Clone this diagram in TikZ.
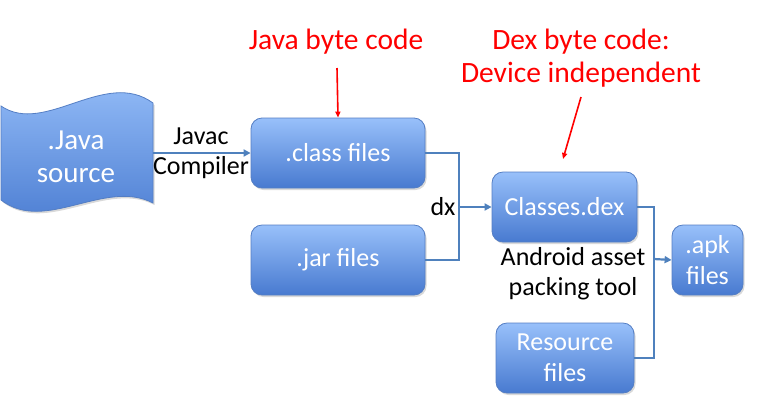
\documentclass[tikz,border=0pt]{standalone}
\usepackage{fontspec}
\setmainfont{Carlito}
\usetikzlibrary{arrows.meta,shadows}
\definecolor{boxtop}{RGB}{152,192,250}
\definecolor{boxbot}{RGB}{72,122,208}
\definecolor{boxedge}{RGB}{84,126,196}
\definecolor{conn}{RGB}{79,129,189}
\definecolor{redtxt}{RGB}{255,0,0}
\begin{document}
\begin{tikzpicture}[x=1pt,y=-1pt,
  fbox/.style={draw=boxedge,line width=0.8pt,rounded corners=11pt,
    top color=boxtop,bottom color=boxbot,text=white,align=center,
    font=\fontsize{26}{31}\selectfont,inner sep=0pt,minimum height=70pt,
    drop shadow={shadow xshift=1.5pt,shadow yshift=-2pt,opacity=0.3}},
  conline/.style={draw=conn,line width=2.2pt},
  conarrow/.style={conline,-{Triangle[length=7pt,width=7pt]}},
  blacklabel/.style={align=center,font=\fontsize{26}{30}\selectfont,inner sep=0pt},
  redlabel/.style={align=center,text=redtxt,font=\fontsize{29.5}{33}\selectfont,inner sep=0pt},
  redarrow/.style={draw=redtxt,line width=1.6pt,-{Triangle[length=6pt,width=5pt]}}
]
\useasboundingbox (0,0) rectangle (757,400);

% Java source shape
\path[draw=boxedge,line width=0.8pt,top color=boxtop,bottom color=boxbot,
  drop shadow={shadow xshift=1.5pt,shadow yshift=-2pt,opacity=0.3}]
  (1,106) .. controls (45,136) and (105,68) .. (153,103)
  -- (153,203) .. controls (105,178) and (45,234) .. (1,200) -- cycle;
\node[text=white,align=center,font=\fontsize{29}{33}\selectfont,inner sep=0pt]
  (javatext) at (76,157) {.Java\\source};
\coordinate (javaR) at (153,153);

% boxes
\node[fbox,minimum width=174pt] (class) at (338,153) {.class files};
\node[fbox,minimum width=174pt] (jar) at (338,260) {.jar files};
\node[fbox,minimum width=145pt] (dex) at (564.5,207) {Classes.dex};
\node[fbox,minimum width=71pt] (apk) at (707.5,260) {.apk\\files};
\node[fbox,minimum width=138pt] (res) at (565,358) {Resource\\files};

% connectors
\coordinate (j1) at (459,207);
\coordinate (j2) at (654,259);
\draw[conarrow] (javaR) -- (class.west);
\draw[conline] (class.east) -| (j1);
\draw[conline] (jar.east) -| (j1);
\draw[conarrow] (j1) -- (dex.west);
\draw[conline] (dex.east) -| (j2);
\draw[conline] (res.east) -| (j2);
\draw[conarrow] (j2) -- (apk.west);

% black labels
\node[blacklabel] (javac) at (201,153) {Javac\\Compiler};
\node[blacklabel] (dx) at (443,207) {dx};
\node[blacklabel] (aapt) at (573,274) {Android asset\\packing tool};

% red labels
\node[redlabel] (jbc) at (336,42) {Java byte code};
\node[redlabel] (dbc) at (581,58.5) {Dex byte code:\\Device independent};
\coordinate (r1s) at (337,68);
\coordinate (r2s) at (581,97);
\coordinate (r2e) at (563,159);
\draw[redarrow] (r1s) -- (class.north);
\draw[redarrow] (r2s) -- (r2e);
\end{tikzpicture}
\end{document}
